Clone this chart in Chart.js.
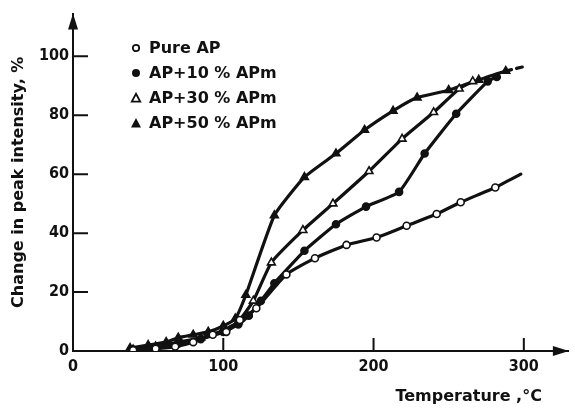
<!DOCTYPE html>
<html>
<head>
<meta charset="utf-8">
<script src="https://cdn.jsdelivr.net/npm/chart.js@4.4.1/dist/chart.umd.min.js"></script>
<style>
  html, body { margin: 0; padding: 0; background: #fff; }
  #wrap { position: relative; width: 575px; height: 409px; }
  #legend { position: absolute; left: 130px; top: 35px; font: bold 16px "DejaVu Sans"; color: #111; }
  .item { height: 25px; display: flex; align-items: center; white-space: pre; }
  .item svg { margin-right: 7px; }
</style>
</head>
<body>
<div id="wrap">
  <canvas id="c" width="575" height="409"></canvas>
  <div id="legend"></div>
</div>
<script>
/* Peak intensity change vs temperature, four AP/APm mixtures. */

const INK = "#111";

const xTicks = [0, 100, 200, 300];
const yTicks = [0, 20, 40, 60, 80, 100];
const xTitle = "Temperature ,\u00B0C";
const yTitle = "Change in peak intensity, %";

const labels = ["Pure AP", "AP+10 % APm", "AP+30 % APm", "AP+50 % APm"];

const tempPure = [40, 55, 68, 80, 93, 102, 111, 122, 142, 161, 182, 202, 222, 242, 258, 281, 298];
const pure     = [0.3, 0.8, 1.5, 3, 5.5, 6.5, 10.5, 14.5, 26, 31.5, 36, 38.5, 42.5, 46.5, 50.5, 55.5, 60];

const temp10 = [40, 55, 70, 85, 100, 110, 117, 125, 134, 154, 175, 195, 217, 234, 255, 276, 282];
const ap10   = [0.5, 1.2, 2.5, 4, 6.5, 9, 12, 17, 23, 34, 43, 49, 54, 67, 80.5, 91.5, 93];

const temp30 = [40, 55, 70, 85, 100, 110, 120, 132, 153, 173, 197, 219, 240, 257, 266];
const ap30   = [0.5, 1.5, 3, 4.5, 7, 10, 17, 30, 41, 50, 61, 72, 81, 89, 91.5];

const temp50 = [38, 50, 62, 70, 80, 90, 100, 108, 115, 134, 154, 175, 194, 213, 229, 250, 270, 288, 300];
const ap50   = [1, 2, 3, 4.5, 5.5, 6.5, 8.5, 11, 19, 46, 59, 67, 75, 81.5, 86, 88.5, 92, 95, 96.5];

const pts = (xs, ys) => xs.map((x, i) => ({ x, y: ys[i] }));

function series(label, data, style, filled, r, tailOpen, tailDash) {
  const last = data.length - 1;
  return {
    label,
    data,
    borderColor: INK,
    borderWidth: 3.2,
    pointStyle: style,
    pointBackgroundColor: filled ? INK : "#fff",
    pointBorderColor: INK,
    pointBorderWidth: 1.6,
    pointRadius: (c) => (tailOpen && c.dataIndex === last ? 0 : r),
    tension: 0.15,
    borderCapStyle: "round",
    borderJoinStyle: "round",
    segment: tailDash ? { borderDash: (c) => (c.p1DataIndex === last ? [6, 5] : undefined) } : {},
  };
}

const axisDecor = {
  id: "axisDecor",
  afterDraw(chart) {
    const { ctx, chartArea: a, scales: { x, y } } = chart;
    ctx.save();
    ctx.strokeStyle = INK;
    ctx.fillStyle = INK;
    ctx.lineWidth = 2;
    ctx.beginPath();
    for (const v of yTicks) {
      if (v === 0) continue;
      const py = y.getPixelForValue(v);
      ctx.moveTo(a.left, py);
      ctx.lineTo(a.left + 15, py);
    }
    for (const v of xTicks) {
      if (v === 0) continue;
      const px = x.getPixelForValue(v);
      ctx.moveTo(px, a.bottom);
      ctx.lineTo(px, a.bottom - 13);
    }
    ctx.stroke();
    // arrow heads
    ctx.beginPath();
    ctx.moveTo(a.left, a.top);
    ctx.lineTo(a.left - 5, a.top + 16);
    ctx.lineTo(a.left + 5, a.top + 16);
    ctx.fill();
    ctx.beginPath();
    ctx.moveTo(a.right, a.bottom);
    ctx.lineTo(a.right - 16, a.bottom - 5);
    ctx.lineTo(a.right - 16, a.bottom + 5);
    ctx.fill();
    // x title, right aligned under the axis
    ctx.font = "bold 16px 'DejaVu Sans'";
    ctx.textAlign = "right";
    ctx.textBaseline = "middle";
    ctx.fillText(xTitle, a.right - 27, a.bottom + 46);
    ctx.restore();
  },
};

const tickFont = { family: "'DejaVu Sans Condensed', 'DejaVu Sans'", size: 16, weight: "bold" };

new Chart(document.getElementById("c"), {
  type: "line",
  data: {
    datasets: [
      series(labels[0], pts(tempPure, pure), "circle", false, 3.5, true, false),
      series(labels[1], pts(temp10, ap10), "circle", true, 3.5, false, false),
      series(labels[2], pts(temp30, ap30), "triangle", false, 4.5, false, false),
      series(labels[3], pts(temp50, ap50), "triangle", true, 4.5, true, true),
    ],
  },
  options: {
    responsive: false,
    animation: false,
    layout: { padding: { top: 12, right: 1, left: 0, bottom: 0 } },
    plugins: { legend: { display: false }, tooltip: { enabled: false } },
    scales: {
      x: {
        type: "linear",
        min: 0,
        max: 330,
        afterBuildTicks: (s) => { s.ticks = xTicks.map((v) => ({ value: v })); },
        afterFit: (s) => { s.height = 58; },
        grid: { display: false, drawTicks: false },
        border: { display: true, color: INK, width: 2 },
        ticks: { color: INK, font: tickFont, padding: 6, maxRotation: 0 },
      },
      y: {
        min: 0,
        max: 114.5,
        afterBuildTicks: (s) => { s.ticks = yTicks.map((v) => ({ value: v })); },
        afterFit: (s) => { s.width = 73; },
        grid: { display: false, drawTicks: false },
        border: { display: true, color: INK, width: 2 },
        ticks: { color: INK, font: tickFont, padding: 4 },
        title: {
          display: true,
          text: yTitle,
          color: INK,
          font: { family: "'DejaVu Sans'", size: 16, weight: "bold" },
          padding: { top: 9, bottom: 0 },
        },
      },
    },
  },
  plugins: [axisDecor],
});

/* HTML legend with the same marker shapes */
const marks = [
  '<circle cx="6" cy="6" r="3.2" fill="#fff" stroke="#111" stroke-width="1.8"/>',
  '<circle cx="6" cy="6" r="4" fill="#111"/>',
  '<polygon points="6,1.8 10.2,9.6 1.8,9.6" fill="#fff" stroke="#111" stroke-width="1.8"/>',
  '<polygon points="6,1 11,10.5 1,10.5" fill="#111"/>',
];
const lg = document.getElementById("legend");
labels.forEach((t, i) => {
  const d = document.createElement("div");
  d.className = "item";
  d.innerHTML = `<svg width="12" height="12">${marks[i]}</svg><span>${t}</span>`;
  lg.appendChild(d);
});
</script>
</body>
</html>
